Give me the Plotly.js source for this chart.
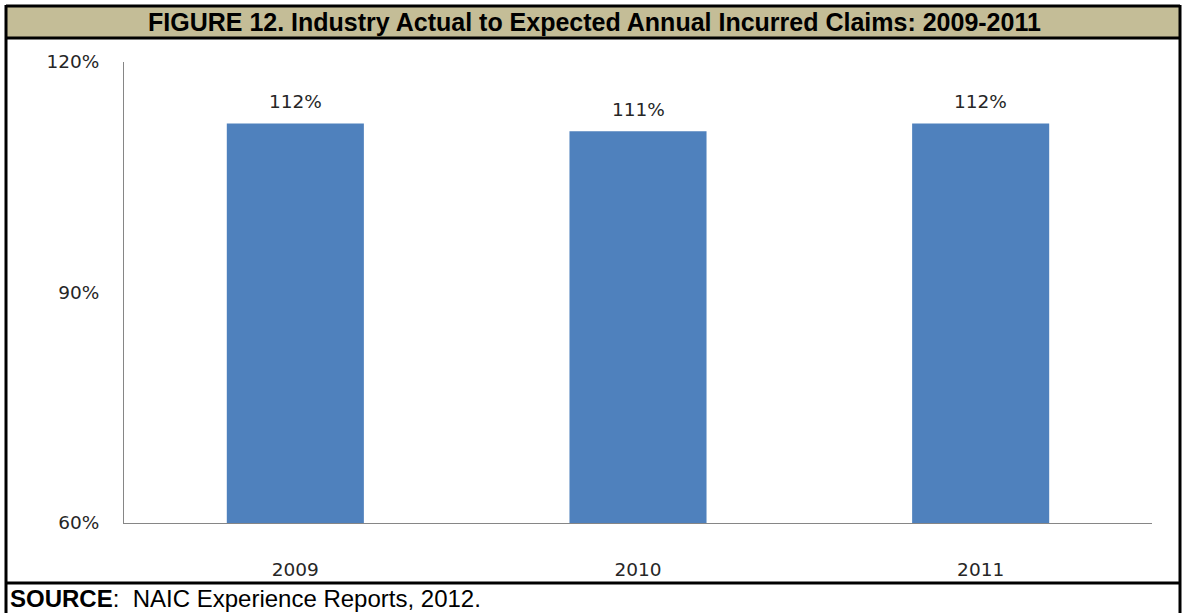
<!DOCTYPE html>
<html>
<head>
<meta charset="utf-8">
<script src="https://cdn.plot.ly/plotly-3.0.1.min.js"></script>
<style>
html,body{margin:0;padding:0;background:#fff;}
#chart{width:1182px;height:613px;}
</style>
</head>
<body>
<div id="chart"></div>
<script>
// Data
const years = ['2009', '2010', '2011'];
const ratios = [112, 111, 112];
const barLabels = ['112%', '111%', '112%'];
const yTickVals = [60, 90, 120];
const yTickText = ['60%', '90%', '120%'];
const figureTitle = 'FIGURE 12. Industry Actual to Expected Annual Incurred Claims: 2009-2011';
const sourceText = '<b>SOURCE</b>:  NAIC Experience Reports, 2012.';

// Layout geometry (pixels)
const W = 1182, H = 613;
const L = 124, R = 1152, T = 62, B = 523;
const px2x = p => (p - L) / (R - L);
const px2y = p => (B - p) / (B - T);

const tickFont = {family: 'DejaVu Sans, Verdana, sans-serif', size: 18.5, color: '#262626'};

const trace = {
  type: 'bar',
  x: years,
  y: ratios,
  marker: {color: '#4f81bd', line: {width: 0}},
  hoverinfo: 'skip'
};

const borderLine = {color: '#000', width: 3};
const shapes = [
  {type: 'rect', xref: 'paper', yref: 'paper', x0: px2x(6), x1: px2x(1180), y0: px2y(38), y1: px2y(6),
   fillcolor: '#c4bd97', line: {width: 0}, layer: 'below'},
  {type: 'line', xref: 'paper', yref: 'paper', x0: px2x(6), x1: px2x(1180), y0: px2y(6), y1: px2y(6), line: borderLine},
  {type: 'line', xref: 'paper', yref: 'paper', x0: px2x(6), x1: px2x(1180), y0: px2y(38), y1: px2y(38), line: borderLine},
  {type: 'line', xref: 'paper', yref: 'paper', x0: px2x(6), x1: px2x(1180), y0: px2y(583), y1: px2y(583), line: borderLine},
  {type: 'line', xref: 'paper', yref: 'paper', x0: px2x(6), x1: px2x(6), y0: px2y(5), y1: px2y(614), line: borderLine},
  {type: 'line', xref: 'paper', yref: 'paper', x0: px2x(1180), x1: px2x(1180), y0: px2y(5), y1: px2y(614), line: borderLine}
];

const annotations = [
  {xref: 'paper', yref: 'paper', x: px2x(594), y: px2y(22), text: '<b>' + figureTitle + '</b>',
   showarrow: false, xanchor: 'center', yanchor: 'middle',
   font: {family: 'Liberation Sans, Arial, sans-serif', size: 25, color: '#000'}},
  {xref: 'paper', yref: 'paper', x: px2x(8), y: px2y(598), text: sourceText,
   showarrow: false, xanchor: 'left', yanchor: 'middle',
   font: {family: 'Liberation Sans, Arial, sans-serif', size: 24, color: '#000'}}
].concat(years.map((yr, i) => ({
  x: i, y: ratios[i], xref: 'x', yref: 'y', text: barLabels[i],
  showarrow: false, yanchor: 'middle', yshift: 22, font: tickFont
})));

const layout = {
  width: W, height: H,
  margin: {l: L, r: W - R, t: T, b: H - B, pad: 0},
  paper_bgcolor: '#fff', plot_bgcolor: '#fff',
  showlegend: false,
  bargap: 0.6,
  xaxis: {
    type: 'category', range: [-0.5, years.length - 0.5], showgrid: false, zeroline: false,
    showline: true, linecolor: '#868686', linewidth: 1,
    ticks: '', ticklabelstandoff: 30, tickfont: tickFont, fixedrange: true
  },
  yaxis: {
    range: [60, 120], showgrid: false, zeroline: false,
    showline: true, linecolor: '#868686', linewidth: 1,
    tickvals: yTickVals, ticktext: yTickText,
    ticks: '', ticklabelstandoff: 20, tickfont: tickFont, fixedrange: true
  },
  shapes: shapes,
  annotations: annotations
};

Plotly.newPlot('chart', [trace], layout, {displayModeBar: false, staticPlot: true});
</script>
</body>
</html>
